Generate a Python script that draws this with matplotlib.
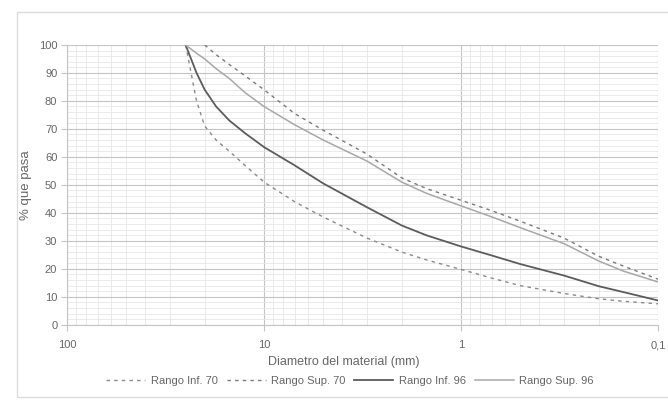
import matplotlib
matplotlib.use("Agg")
import matplotlib.pyplot as plt
import numpy as np
from matplotlib.ticker import FixedLocator, FuncFormatter

# Data (diameter in mm, % passing)
diametros = [25, 22, 20, 17.5, 15, 12.5, 10, 7, 5, 3, 2, 1.5, 1, 0.7, 0.5, 0.3, 0.2, 0.15, 0.1]
rango_inf_70 = [100, 80, 71, 66, 62, 57, 51, 44, 38.5, 31, 26, 23.2, 19.8, 16.7, 14, 11.2, 9.3, 8.4, 7.5]
rango_sup_70 = [np.nan, np.nan, 100, 96.5, 93, 89, 84, 75.5, 69.5, 61, 52.5, 48.7, 44.5, 40.8, 37, 31, 24.5, 21, 16.3]
rango_inf_96 = [100, 90, 84, 78, 73, 68.5, 63.5, 57, 50.5, 42, 35.5, 32, 28, 24.8, 21.7, 17.6, 13.8, 11.7, 8.7]
rango_sup_96 = [100, 97, 95, 91.5, 88, 83, 78, 71.5, 66, 58.5, 51, 47, 42.5, 38.6, 34.7, 29, 22.8, 19.2, 15.3]

x_ticks = [100, 10, 1, 0.1]
x_labels = ["100", "10", "1", "0,1"]
y_ticks = list(range(0, 101, 10))

text_color = "#666666"
plt.rcParams["font.family"] = ["Liberation Sans", "DejaVu Sans"]

fig = plt.figure(figsize=(6.68, 4.01), dpi=100)
ax = fig.add_axes([0.1003, 0.19, 0.8847, 0.698])

ax.plot(diametros, rango_inf_70, color="#8a8a8a", linewidth=1.0, linestyle=(0, (2.5, 3)), label="Rango Inf. 70")
ax.plot(diametros, rango_sup_70, color="#7a7a7a", linewidth=1.0, linestyle=(0, (2.5, 3)), label="Rango Sup. 70")
ax.plot(diametros, rango_inf_96, color="#5c5c5c", linewidth=1.3, label="Rango Inf. 96")
ax.plot(diametros, rango_sup_96, color="#a8a8a8", linewidth=1.1, label="Rango Sup. 96")

ax.set_xscale("log")
ax.set_xlim(100, 0.1)
ax.set_ylim(0, 100)

ax.xaxis.set_major_locator(FixedLocator(x_ticks))
ax.xaxis.set_major_formatter(FuncFormatter(lambda v, p: x_labels[x_ticks.index(v)] if v in x_ticks else ""))
ax.xaxis.set_minor_locator(FixedLocator([m * 10.0 ** e for e in (-1, 0, 1) for m in range(2, 10)]))
ax.xaxis.set_minor_formatter(FuncFormatter(lambda v, p: ""))
ax.set_yticks(y_ticks)
ax.yaxis.set_minor_locator(FixedLocator(np.arange(0, 101, 2)))

# Grid like a semi-log graph paper
ax.grid(which="major", color="#c4c4c4", linewidth=0.8)
ax.grid(which="minor", color="#e6e6e6", linewidth=0.6)
ax.set_axisbelow(True)

ax.tick_params(which="major", length=4, color="#c4c4c4", labelsize=8, labelcolor=text_color, pad=3)
ax.tick_params(axis="x", which="major", pad=7)
ax.tick_params(which="minor", length=0)
for side in ["top", "right"]:
    ax.spines[side].set_visible(False)
for side in ["left", "bottom"]:
    ax.spines[side].set_color("#c4c4c4")
    ax.spines[side].set_linewidth(0.8)

ax.set_ylabel("% que pasa", fontsize=9.5, color=text_color, labelpad=5)
fig.text(344 / 668, 1 - 362 / 401, "Diametro del material (mm)", fontsize=9, color=text_color,
         ha="center", va="center")

fig.legend(loc="center", bbox_to_anchor=(350 / 668, 1 - 381 / 401), ncol=4, frameon=False,
           fontsize=8, labelcolor=text_color, handlelength=3.5, handletextpad=0.5, columnspacing=0.8)

# faint outer frame of the scanned chart
fig.patches.append(plt.Rectangle((17 / 668, 4 / 401), 1, 385 / 401, transform=fig.transFigure,
                                 fill=False, edgecolor="#dcdcdc", linewidth=1.0))

fig.savefig("out.png", dpi=100, facecolor="white")
